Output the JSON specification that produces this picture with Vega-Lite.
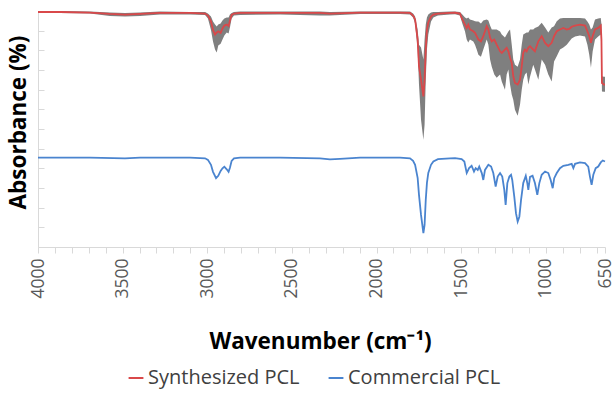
{
"$schema":"https://vega.github.io/schema/vega-lite/v6.json",
"width":567,"height":236,
"autosize":"none",
"padding":{"left":38,"top":11,"right":11,"bottom":148},
"config":{"view":{"stroke":null},"font":"Open Sans"},
"datasets":{"d":[
{"s":"Synthesized PCL","w":4000,"v":119.5,"hi":120.0,"lo":119.0},
{"s":"Synthesized PCL","w":3870,"v":119.5,"hi":120.0,"lo":119.0},
{"s":"Synthesized PCL","w":3693,"v":119.2,"hi":119.8,"lo":118.7},
{"s":"Synthesized PCL","w":3575,"v":118.5,"hi":119.2,"lo":117.5},
{"s":"Synthesized PCL","w":3486,"v":118.2,"hi":119.0,"lo":117.2},
{"s":"Synthesized PCL","w":3397,"v":118.5,"hi":119.2,"lo":117.5},
{"s":"Synthesized PCL","w":3279,"v":119.0,"hi":119.7,"lo":118.2},
{"s":"Synthesized PCL","w":3102,"v":119.0,"hi":119.5,"lo":118.2},
{"s":"Synthesized PCL","w":3013,"v":118.7,"hi":119.5,"lo":118.0},
{"s":"Synthesized PCL","w":2996,"v":117.7,"hi":118.7,"lo":116.2},
{"s":"Synthesized PCL","w":2978,"v":114.7,"hi":117.2,"lo":110.4},
{"s":"Synthesized PCL","w":2966,"v":110.4,"hi":114.7,"lo":104.5},
{"s":"Synthesized PCL","w":2954,"v":108.0,"hi":113.1,"lo":100.4},
{"s":"Synthesized PCL","w":2944,"v":109.1,"hi":112.1,"lo":98.9},
{"s":"Synthesized PCL","w":2935,"v":109.7,"hi":113.1,"lo":102.4},
{"s":"Synthesized PCL","w":2921,"v":108.9,"hi":113.6,"lo":103.4},
{"s":"Synthesized PCL","w":2910,"v":111.1,"hi":115.2,"lo":105.5},
{"s":"Synthesized PCL","w":2899,"v":112.6,"hi":116.2,"lo":107.5},
{"s":"Synthesized PCL","w":2885,"v":113.1,"hi":116.7,"lo":109.1},
{"s":"Synthesized PCL","w":2874,"v":112.4,"hi":116.7,"lo":108.5},
{"s":"Synthesized PCL","w":2866,"v":115.2,"hi":118.2,"lo":111.6},
{"s":"Synthesized PCL","w":2856,"v":118.0,"hi":119.0,"lo":116.2},
{"s":"Synthesized PCL","w":2842,"v":118.7,"hi":119.5,"lo":117.7},
{"s":"Synthesized PCL","w":2806,"v":119.0,"hi":119.7,"lo":118.0},
{"s":"Synthesized PCL","w":2570,"v":119.0,"hi":119.7,"lo":118.2},
{"s":"Synthesized PCL","w":2334,"v":119.0,"hi":119.8,"lo":117.7},
{"s":"Synthesized PCL","w":2275,"v":118.7,"hi":119.5,"lo":117.7},
{"s":"Synthesized PCL","w":2097,"v":119.2,"hi":119.8,"lo":118.5},
{"s":"Synthesized PCL","w":1861,"v":119.2,"hi":119.8,"lo":118.5},
{"s":"Synthesized PCL","w":1802,"v":119.0,"hi":119.7,"lo":118.2},
{"s":"Synthesized PCL","w":1784,"v":117.7,"hi":118.7,"lo":116.7},
{"s":"Synthesized PCL","w":1772,"v":115.7,"hi":117.2,"lo":113.6},
{"s":"Synthesized PCL","w":1757,"v":105.5,"hi":110.6,"lo":100.4},
{"s":"Synthesized PCL","w":1749,"v":91.9,"hi":102.9,"lo":82.6},
{"s":"Synthesized PCL","w":1737,"v":85.1,"hi":101.4,"lo":64.7},
{"s":"Synthesized PCL","w":1723,"v":76.6,"hi":95.3,"lo":54.5},
{"s":"Synthesized PCL","w":1716,"v":85.1,"hi":105.5,"lo":62.2},
{"s":"Synthesized PCL","w":1709,"v":100.4,"hi":113.1,"lo":85.1},
{"s":"Synthesized PCL","w":1702,"v":110.6,"hi":116.7,"lo":100.4},
{"s":"Synthesized PCL","w":1694,"v":114.2,"hi":118.2,"lo":108.0},
{"s":"Synthesized PCL","w":1678,"v":117.2,"hi":119.2,"lo":114.7},
{"s":"Synthesized PCL","w":1664,"v":118.2,"hi":119.5,"lo":116.7},
{"s":"Synthesized PCL","w":1637,"v":118.7,"hi":119.5,"lo":117.7},
{"s":"Synthesized PCL","w":1566,"v":119.0,"hi":119.7,"lo":118.2},
{"s":"Synthesized PCL","w":1536,"v":119.1,"hi":119.8,"lo":118.3},
{"s":"Synthesized PCL","w":1507,"v":118.7,"hi":119.5,"lo":117.7},
{"s":"Synthesized PCL","w":1493,"v":115.7,"hi":118.2,"lo":113.6},
{"s":"Synthesized PCL","w":1477,"v":113.1,"hi":116.7,"lo":109.6},
{"s":"Synthesized PCL","w":1467,"v":111.4,"hi":116.2,"lo":105.5},
{"s":"Synthesized PCL","w":1458,"v":113.1,"hi":116.7,"lo":104.0},
{"s":"Synthesized PCL","w":1448,"v":110.6,"hi":115.7,"lo":105.5},
{"s":"Synthesized PCL","w":1428,"v":109.7,"hi":115.2,"lo":104.5},
{"s":"Synthesized PCL","w":1418,"v":108.9,"hi":114.8,"lo":102.9},
{"s":"Synthesized PCL","w":1408,"v":107.2,"hi":114.7,"lo":100.4},
{"s":"Synthesized PCL","w":1398,"v":105.5,"hi":114.7,"lo":97.8},
{"s":"Synthesized PCL","w":1383,"v":104.6,"hi":113.6,"lo":96.8},
{"s":"Synthesized PCL","w":1369,"v":107.2,"hi":115.2,"lo":100.4},
{"s":"Synthesized PCL","w":1349,"v":112.3,"hi":115.7,"lo":105.5},
{"s":"Synthesized PCL","w":1339,"v":110.6,"hi":115.2,"lo":102.9},
{"s":"Synthesized PCL","w":1329,"v":106.4,"hi":112.6,"lo":95.3},
{"s":"Synthesized PCL","w":1319,"v":104.6,"hi":110.6,"lo":91.7},
{"s":"Synthesized PCL","w":1304,"v":105.5,"hi":110.6,"lo":87.7},
{"s":"Synthesized PCL","w":1290,"v":102.9,"hi":110.6,"lo":86.1},
{"s":"Synthesized PCL","w":1270,"v":99.5,"hi":109.6,"lo":87.7},
{"s":"Synthesized PCL","w":1260,"v":98.7,"hi":108.0,"lo":84.1},
{"s":"Synthesized PCL","w":1241,"v":100.4,"hi":106.5,"lo":80.0},
{"s":"Synthesized PCL","w":1231,"v":101.3,"hi":108.0,"lo":87.7},
{"s":"Synthesized PCL","w":1221,"v":99.5,"hi":109.6,"lo":90.2},
{"s":"Synthesized PCL","w":1211,"v":96.2,"hi":110.6,"lo":82.6},
{"s":"Synthesized PCL","w":1201,"v":93.6,"hi":102.9,"lo":77.5},
{"s":"Synthesized PCL","w":1192,"v":86.8,"hi":95.3,"lo":74.9},
{"s":"Synthesized PCL","w":1182,"v":83.4,"hi":92.7,"lo":69.8},
{"s":"Synthesized PCL","w":1166,"v":82.6,"hi":91.7,"lo":66.8},
{"s":"Synthesized PCL","w":1152,"v":85.1,"hi":95.3,"lo":72.4},
{"s":"Synthesized PCL","w":1142,"v":91.9,"hi":102.9,"lo":80.0},
{"s":"Synthesized PCL","w":1133,"v":98.7,"hi":108.0,"lo":85.1},
{"s":"Synthesized PCL","w":1123,"v":100.4,"hi":108.5,"lo":87.7},
{"s":"Synthesized PCL","w":1113,"v":99.5,"hi":109.1,"lo":88.7},
{"s":"Synthesized PCL","w":1103,"v":101.4,"hi":109.1,"lo":82.6},
{"s":"Synthesized PCL","w":1093,"v":102.1,"hi":110.6,"lo":86.6},
{"s":"Synthesized PCL","w":1074,"v":100.4,"hi":110.6,"lo":92.7},
{"s":"Synthesized PCL","w":1064,"v":99.5,"hi":111.4,"lo":90.2},
{"s":"Synthesized PCL","w":1044,"v":104.6,"hi":112.1,"lo":85.1},
{"s":"Synthesized PCL","w":1024,"v":107.2,"hi":114.0,"lo":95.3},
{"s":"Synthesized PCL","w":1004,"v":103.8,"hi":111.6,"lo":92.7},
{"s":"Synthesized PCL","w":985,"v":102.1,"hi":109.1,"lo":87.7},
{"s":"Synthesized PCL","w":965,"v":103.8,"hi":111.6,"lo":84.2},
{"s":"Synthesized PCL","w":951,"v":107.2,"hi":112.3,"lo":94.3},
{"s":"Synthesized PCL","w":935,"v":109.7,"hi":114.8,"lo":97.0},
{"s":"Synthesized PCL","w":916,"v":110.6,"hi":116.2,"lo":100.4},
{"s":"Synthesized PCL","w":896,"v":111.4,"hi":116.5,"lo":101.4},
{"s":"Synthesized PCL","w":876,"v":110.6,"hi":116.5,"lo":102.9},
{"s":"Synthesized PCL","w":861,"v":110.9,"hi":116.5,"lo":104.5},
{"s":"Synthesized PCL","w":847,"v":112.0,"hi":116.5,"lo":106.0},
{"s":"Synthesized PCL","w":827,"v":112.6,"hi":116.5,"lo":107.0},
{"s":"Synthesized PCL","w":798,"v":113.1,"hi":116.5,"lo":107.5},
{"s":"Synthesized PCL","w":768,"v":112.6,"hi":116.2,"lo":107.0},
{"s":"Synthesized PCL","w":754,"v":109.7,"hi":114.7,"lo":102.9},
{"s":"Synthesized PCL","w":743,"v":107.2,"hi":113.1,"lo":97.8},
{"s":"Synthesized PCL","w":733,"v":103.8,"hi":110.6,"lo":91.2},
{"s":"Synthesized PCL","w":723,"v":107.2,"hi":111.6,"lo":99.4},
{"s":"Synthesized PCL","w":709,"v":110.6,"hi":115.7,"lo":105.5},
{"s":"Synthesized PCL","w":690,"v":111.4,"hi":116.2,"lo":107.0},
{"s":"Synthesized PCL","w":675,"v":112.6,"hi":116.5,"lo":108.0},
{"s":"Synthesized PCL","w":671,"v":105.5,"hi":113.1,"lo":97.8},
{"s":"Synthesized PCL","w":668,"v":83.4,"hi":86.8,"lo":79.1},
{"s":"Synthesized PCL","w":656,"v":82.6,"hi":86.6,"lo":79.0},
{"s":"Synthesized PCL","w":650,"v":82.6,"hi":86.6,"lo":79.0},
{"s":"Commercial PCL","w":4000,"v":45.4},
{"s":"Commercial PCL","w":3693,"v":45.4},
{"s":"Commercial PCL","w":3486,"v":45.1},
{"s":"Commercial PCL","w":3397,"v":45.4},
{"s":"Commercial PCL","w":3102,"v":45.4},
{"s":"Commercial PCL","w":3013,"v":45.1},
{"s":"Commercial PCL","w":2996,"v":44.3},
{"s":"Commercial PCL","w":2978,"v":41.8},
{"s":"Commercial PCL","w":2966,"v":38.2},
{"s":"Commercial PCL","w":2948,"v":35.0},
{"s":"Commercial PCL","w":2935,"v":36.2},
{"s":"Commercial PCL","w":2921,"v":38.7},
{"s":"Commercial PCL","w":2910,"v":40.0},
{"s":"Commercial PCL","w":2899,"v":40.8},
{"s":"Commercial PCL","w":2885,"v":39.5},
{"s":"Commercial PCL","w":2874,"v":38.2},
{"s":"Commercial PCL","w":2866,"v":40.3},
{"s":"Commercial PCL","w":2856,"v":43.8},
{"s":"Commercial PCL","w":2842,"v":45.1},
{"s":"Commercial PCL","w":2806,"v":45.4},
{"s":"Commercial PCL","w":2570,"v":45.4},
{"s":"Commercial PCL","w":2334,"v":45.1},
{"s":"Commercial PCL","w":2275,"v":44.6},
{"s":"Commercial PCL","w":2216,"v":44.8},
{"s":"Commercial PCL","w":2097,"v":45.4},
{"s":"Commercial PCL","w":1861,"v":45.4},
{"s":"Commercial PCL","w":1802,"v":45.1},
{"s":"Commercial PCL","w":1784,"v":43.8},
{"s":"Commercial PCL","w":1772,"v":41.8},
{"s":"Commercial PCL","w":1757,"v":35.2},
{"s":"Commercial PCL","w":1749,"v":26.5},
{"s":"Commercial PCL","w":1737,"v":16.3},
{"s":"Commercial PCL","w":1723,"v":7.0},
{"s":"Commercial PCL","w":1716,"v":11.2},
{"s":"Commercial PCL","w":1709,"v":24.0},
{"s":"Commercial PCL","w":1702,"v":32.6},
{"s":"Commercial PCL","w":1694,"v":37.7},
{"s":"Commercial PCL","w":1678,"v":41.8},
{"s":"Commercial PCL","w":1664,"v":43.5},
{"s":"Commercial PCL","w":1637,"v":44.7},
{"s":"Commercial PCL","w":1566,"v":45.1},
{"s":"Commercial PCL","w":1536,"v":45.2},
{"s":"Commercial PCL","w":1497,"v":44.7},
{"s":"Commercial PCL","w":1481,"v":43.5},
{"s":"Commercial PCL","w":1467,"v":37.6},
{"s":"Commercial PCL","w":1453,"v":40.1},
{"s":"Commercial PCL","w":1438,"v":41.3},
{"s":"Commercial PCL","w":1424,"v":38.4},
{"s":"Commercial PCL","w":1414,"v":40.1},
{"s":"Commercial PCL","w":1402,"v":39.2},
{"s":"Commercial PCL","w":1393,"v":40.9},
{"s":"Commercial PCL","w":1378,"v":37.6},
{"s":"Commercial PCL","w":1369,"v":34.1},
{"s":"Commercial PCL","w":1359,"v":39.2},
{"s":"Commercial PCL","w":1339,"v":41.8},
{"s":"Commercial PCL","w":1323,"v":40.9},
{"s":"Commercial PCL","w":1310,"v":37.6},
{"s":"Commercial PCL","w":1296,"v":30.7},
{"s":"Commercial PCL","w":1284,"v":35.8},
{"s":"Commercial PCL","w":1270,"v":37.6},
{"s":"Commercial PCL","w":1257,"v":35.8},
{"s":"Commercial PCL","w":1245,"v":29.0},
{"s":"Commercial PCL","w":1237,"v":21.4},
{"s":"Commercial PCL","w":1227,"v":32.5},
{"s":"Commercial PCL","w":1215,"v":35.8},
{"s":"Commercial PCL","w":1205,"v":36.7},
{"s":"Commercial PCL","w":1198,"v":34.1},
{"s":"Commercial PCL","w":1186,"v":25.6},
{"s":"Commercial PCL","w":1176,"v":17.2},
{"s":"Commercial PCL","w":1166,"v":12.9},
{"s":"Commercial PCL","w":1156,"v":15.4},
{"s":"Commercial PCL","w":1146,"v":24.0},
{"s":"Commercial PCL","w":1133,"v":32.5},
{"s":"Commercial PCL","w":1118,"v":36.2},
{"s":"Commercial PCL","w":1109,"v":32.5},
{"s":"Commercial PCL","w":1103,"v":29.0},
{"s":"Commercial PCL","w":1093,"v":35.7},
{"s":"Commercial PCL","w":1078,"v":36.2},
{"s":"Commercial PCL","w":1064,"v":32.5},
{"s":"Commercial PCL","w":1050,"v":26.5},
{"s":"Commercial PCL","w":1038,"v":32.5},
{"s":"Commercial PCL","w":1024,"v":36.7},
{"s":"Commercial PCL","w":1004,"v":38.4},
{"s":"Commercial PCL","w":985,"v":37.6},
{"s":"Commercial PCL","w":971,"v":34.1},
{"s":"Commercial PCL","w":959,"v":29.9},
{"s":"Commercial PCL","w":950,"v":35.0},
{"s":"Commercial PCL","w":935,"v":37.6},
{"s":"Commercial PCL","w":916,"v":40.1},
{"s":"Commercial PCL","w":896,"v":41.3},
{"s":"Commercial PCL","w":867,"v":41.8},
{"s":"Commercial PCL","w":847,"v":42.3},
{"s":"Commercial PCL","w":837,"v":40.1},
{"s":"Commercial PCL","w":827,"v":42.3},
{"s":"Commercial PCL","w":798,"v":43.0},
{"s":"Commercial PCL","w":768,"v":42.7},
{"s":"Commercial PCL","w":749,"v":40.9},
{"s":"Commercial PCL","w":739,"v":35.8},
{"s":"Commercial PCL","w":729,"v":31.6},
{"s":"Commercial PCL","w":719,"v":36.7},
{"s":"Commercial PCL","w":705,"v":40.1},
{"s":"Commercial PCL","w":690,"v":40.9},
{"s":"Commercial PCL","w":675,"v":43.0},
{"s":"Commercial PCL","w":663,"v":44.0},
{"s":"Commercial PCL","w":650,"v":43.5}
]},
"data":{"name":"d"},
"encoding":{
 "x":{"field":"w","type":"quantitative","scale":{"domain":[650,4000],"reverse":true,"nice":false,"zero":false},
  "axis":{"title":"Wavenumber (cm⁻¹)","values":[4000,3900,3800,3700,3600,3500,3400,3300,3200,3100,3000,2900,2800,2700,2600,2500,2400,2300,2200,2100,2000,1900,1800,1700,1600,1500,1400,1300,1200,1100,1000,900,800,700,650],
   "labelExpr":"(datum.value % 500 == 0 || datum.value == 650) ? format(datum.value,'d') : ''",
   "labelAngle":270,"labelFontSize":17.5,"labelColor":"#595959","labelPadding":5,"labelOverlap":false,"labelBound":false,"labelFlush":false,
   "domainColor":"#d9d9d9","tickColor":"#d9d9d9","tickSize":6,"grid":false,
   "titleFontSize":22.5,"titleFontWeight":"bold","titleColor":"#000000","titleX":282,"titleY":101,"titleBaseline":"alphabetic","titleAlign":"center"}}
},
"layer":[
 {"transform":[{"filter":"datum.s == 'Synthesized PCL'"}],
  "mark":{"type":"area","color":"#7f7f7f","opacity":1},
  "encoding":{"y":{"field":"lo","type":"quantitative","scale":{"domain":[0,120],"nice":false},"title":"Absorbance (%)",
    "axis":{"values":[0,10,20,30,40,50,60,70,80,90,100,110,120],"labels":false,"grid":false,"domainColor":"#d9d9d9","tickColor":"#d9d9d9","tickSize":-6,
     "titleFontSize":22.5,"titleFontWeight":"bold","titleColor":"#000000","titleX":-20,"titleY":111,"titleAngle":270,"titleBaseline":"middle","titleAlign":"center"}},
   "y2":{"field":"hi"}}},
 {"mark":{"type":"line","strokeWidth":1.8},
  "encoding":{"y":{"field":"v","type":"quantitative","title":"Absorbance (%)",
    "axis":{"values":[0,10,20,30,40,50,60,70,80,90,100,110,120],"labels":false,"grid":false,"domainColor":"#d9d9d9","tickColor":"#d9d9d9","tickSize":-6,
     "titleFontSize":22.5,"titleFontWeight":"bold","titleColor":"#000000","titleX":-20,"titleY":111,"titleAngle":270,"titleBaseline":"middle","titleAlign":"center"}},
   "color":{"field":"s","type":"nominal","scale":{"domain":["Synthesized PCL","Commercial PCL"],"range":["#d9484a","#4a84cf"]},
    "legend":{"title":null,"orient":"none","direction":"horizontal","legendX":88,"legendY":357,"symbolType":"stroke","symbolSize":220,"symbolStrokeWidth":2,"labelFontSize":20,"labelColor":"#404040","columnPadding":24,"labelOffset":2}}}}
]
}
